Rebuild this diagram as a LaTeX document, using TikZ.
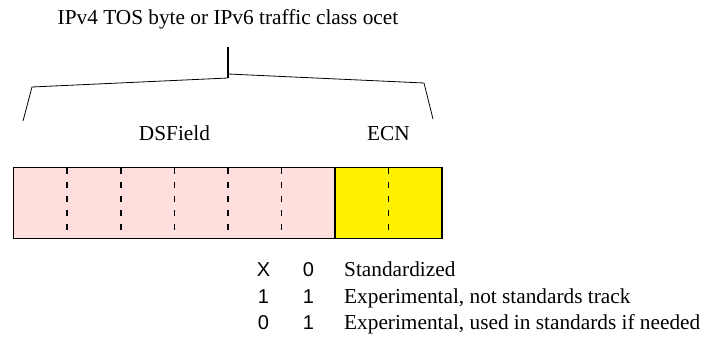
\documentclass[tikz,border=0pt]{standalone}
\usepackage{fontspec}
\setmainfont{Liberation Serif}
\newfontfamily\digitfont{Liberation Sans}
\begin{document}
\begin{tikzpicture}[x=1pt,y=-1pt,
  lbl/.style={inner sep=0pt,anchor=base,font=\fontsize{21.3}{25}\selectfont},
  txt/.style={inner sep=0pt,anchor=base west,font=\fontsize{21.3}{25}\selectfont},
  dig/.style={inner sep=0pt,anchor=base,font=\digitfont\fontsize{20}{24}\selectfont},
  cellsep/.style={line width=1.6pt,dash pattern=on 6pt off 8pt},
  bracket/.style={line width=0.8pt,line join=miter}]
\useasboundingbox (0,0) rectangle (704,350);
% title
\node[lbl] (title) at (228,25) {IPv4 TOS byte or IPv6 traffic class ocet};
% bracket
\coordinate (stemtop) at (228,47);
\coordinate (stembot) at (228,78);
\coordinate (rstart) at (228,74);
\coordinate (lcorner) at (32,87);
\coordinate (lend) at (23,121);
\coordinate (rcorner) at (424,83);
\coordinate (rend) at (433,119);
\draw[line width=1.6pt] (stemtop) -- (stembot);
\draw[bracket] (stembot) -- (lcorner) -- (lend);
\draw[bracket] (rstart) -- (rcorner) -- (rend);
% labels
\node[lbl] (ds) at (174.5,141) {DSField};
\node[lbl] (ecn) at (388.5,141) {ECN};
% boxes
\fill[fill={rgb,255:red,255;green,222;blue,222}] (13.5,167.5) rectangle (335,238.5);
\fill[fill=yellow] (335,167.5) rectangle (442,238.5);
\foreach \i in {1,...,5} {
  \draw[cellsep] (13.5+\i*53.6,168) -- (13.5+\i*53.6,238);
}
\draw[cellsep] (388.5,168) -- (388.5,238);
\draw[line width=1.6pt] (335,167.5) -- (335,238.5);
\draw[line width=1.6pt] (13.5,167.5) rectangle (442,238.5);
% legend
\node[dig] (a1) at (263.5,276.5) {X};
\node[dig] (b1) at (308.5,276.5) {0};
\node[txt] (t1) at (344,276.5) {Standardized};
\node[dig] (a2) at (263.5,303) {1};
\node[dig] (b2) at (308.5,303) {1};
\node[txt] (t2) at (344,303) {Experimental, not standards track};
\node[dig] (a3) at (263.5,329.5) {0};
\node[dig] (b3) at (308.5,329.5) {1};
\node[txt] (t3) at (344,329.5) {Experimental, used in standards if needed};
\end{tikzpicture}
\end{document}
